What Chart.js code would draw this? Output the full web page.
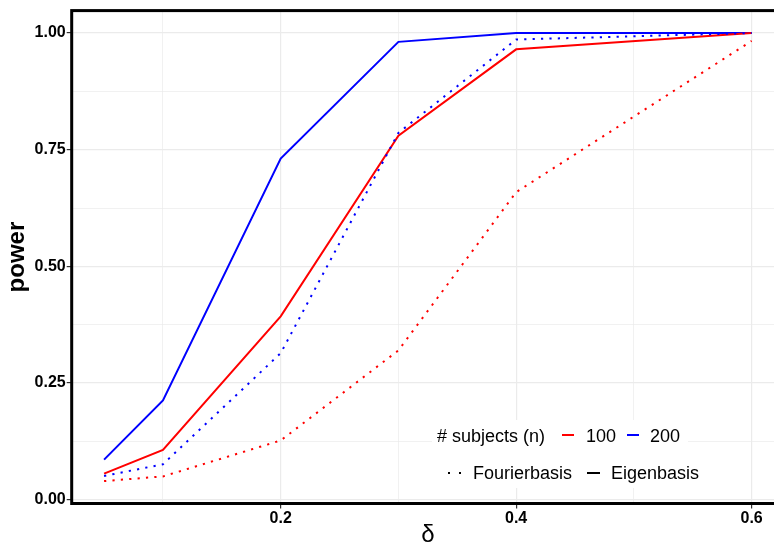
<!DOCTYPE html>
<html>
<head>
<meta charset="utf-8">
<script src="https://cdn.jsdelivr.net/npm/chart.js@4.4.1/dist/chart.umd.min.js"></script>
<style>
  body { margin: 0; background: #fff; overflow: hidden; }
  #wrap { width: 774px; height: 550px; overflow: hidden; position: relative; }
</style>
</head>
<body>
<div id="wrap"><canvas id="powerChart" width="784" height="550"></canvas></div>
<script>
// effect size delta on the x axis
const deltas = [0.05, 0.1, 0.2, 0.3, 0.4, 0.6];

// power values
const eigen100 = [0.056, 0.107, 0.393, 0.780, 0.965, 1.0];
const eigen200 = [0.086, 0.213, 0.731, 0.981, 1.0, 1.0];
const fourier100 = [0.040, 0.050, 0.127, 0.320, 0.659, 0.983];
const fourier200 = [0.051, 0.076, 0.314, 0.786, 0.986, 1.0];

const xTicks = [0.1, 0.2, 0.3, 0.4, 0.5, 0.6];
const xMajor = [0.2, 0.4, 0.6];
const yTicks = [0, 0.125, 0.25, 0.375, 0.5, 0.625, 0.75, 0.875, 1.0];
const yMajor = [0, 0.25, 0.5, 0.75, 1.0];

const sizeLabels = ['100', '200'];
const basisLabels = ['Fourierbasis', 'Eigenbasis'];

const FONT = "'Liberation Sans', Arial, Helvetica, sans-serif";

function isMajor(list, v) {
  return list.some(m => Math.abs(m - v) < 1e-9);
}

function toPoints(ys) {
  return deltas.map((d, i) => ({ x: d, y: ys[i] }));
}

const dotted = [2.2, 6.2];

// border round the panel and the legend inside it
const panelExtras = {
  id: 'panelExtras',
  afterDatasetsDraw(chart) {
    const c = chart.ctx;
    const a = chart.chartArea;
    c.save();
    c.strokeStyle = '#000';
    c.lineWidth = 3;
    c.strokeRect(a.left, a.top, a.right - a.left, a.bottom - a.top);

    // legend backgrounds
    c.fillStyle = '#fff';
    c.fillRect(432, 420, 256, 35);
    c.fillRect(441, 455, 265, 33);

    c.font = '18px ' + FONT;
    c.fillStyle = '#000';
    c.textBaseline = 'alphabetic';
    c.textAlign = 'left';

    // row 1: sample size
    c.fillText('# subjects (n)', 437, 442);
    c.lineWidth = 2;
    c.strokeStyle = '#ff0000';
    c.beginPath(); c.moveTo(562, 435); c.lineTo(574, 435); c.stroke();
    c.fillText(sizeLabels[0], 586, 442);
    c.strokeStyle = '#0000ff';
    c.beginPath(); c.moveTo(627, 435); c.lineTo(639, 435); c.stroke();
    c.fillText(sizeLabels[1], 650, 442);

    // row 2: basis
    c.strokeStyle = '#000';
    c.setLineDash([2, 9]);
    c.beginPath(); c.moveTo(448, 473); c.lineTo(463, 473); c.stroke();
    c.setLineDash([]);
    c.fillText(basisLabels[0], 473, 479);
    c.beginPath(); c.moveTo(587, 473); c.lineTo(600, 473); c.stroke();
    c.fillText(basisLabels[1], 611, 479);
    c.restore();
  }
};

const ctx = document.getElementById('powerChart').getContext('2d');

new Chart(ctx, {
  type: 'line',
  data: {
    datasets: [
      {
        label: 'Fourierbasis 100',
        data: toPoints(fourier100),
        borderColor: '#ff0000',
        borderWidth: 2,
        borderDash: dotted,
        pointRadius: 0,
        tension: 0
      },
      {
        label: 'Fourierbasis 200',
        data: toPoints(fourier200),
        borderColor: '#0000ff',
        borderWidth: 2,
        borderDash: dotted,
        pointRadius: 0,
        tension: 0
      },
      {
        label: 'Eigenbasis 100',
        data: toPoints(eigen100),
        borderColor: '#ff0000',
        borderWidth: 2,
        pointRadius: 0,
        tension: 0
      },
      {
        label: 'Eigenbasis 200',
        data: toPoints(eigen200),
        borderColor: '#0000ff',
        borderWidth: 2,
        pointRadius: 0,
        tension: 0
      }
    ]
  },
  options: {
    responsive: false,
    animation: false,
    devicePixelRatio: 1,
    layout: { padding: { top: 6.7, left: 0, right: 0, bottom: 0 } },
    plugins: {
      legend: { display: false },
      tooltip: { enabled: false }
    },
    scales: {
      x: {
        type: 'linear',
        min: 0.0225,
        max: 0.6275,
        afterBuildTicks: scale => { scale.ticks = xTicks.map(v => ({ value: v })); },
        afterFit: scale => { scale.height = 46.5; },
        border: { display: false },
        grid: {
          color: '#ebebeb',
          lineWidth: c => isMajor(xMajor, c.tick.value) ? 1.2 : 0.7,
          tickLength: 5,
          tickColor: c => isMajor(xMajor, c.tick.value) ? '#333333' : 'rgba(0,0,0,0)'
        },
        ticks: {
          autoSkip: false,
          maxRotation: 0,
          padding: 0,
          color: '#000',
          font: { family: FONT, size: 16, weight: 'bold' },
          callback: v => isMajor(xMajor, v) ? String(v) : ''
        },
        title: {
          display: true,
          text: 'δ',
          color: '#000',
          font: { family: FONT, size: 24 },
          padding: { top: 0, bottom: 0 }
        }
      },
      y: {
        type: 'linear',
        min: -0.008,
        max: 1.048,
        afterBuildTicks: scale => { scale.ticks = yTicks.map(v => ({ value: v })); },
        afterFit: scale => { scale.width = 71.7; },
        border: { display: false },
        grid: {
          color: '#ebebeb',
          lineWidth: c => isMajor(yMajor, c.tick.value) ? 1.2 : 0.7,
          tickLength: 5,
          tickColor: c => isMajor(yMajor, c.tick.value) ? '#333333' : 'rgba(0,0,0,0)'
        },
        ticks: {
          autoSkip: false,
          padding: 1,
          color: '#000',
          font: { family: FONT, size: 16, weight: 'bold' },
          callback: v => isMajor(yMajor, v) ? v.toFixed(2) : ''
        },
        title: {
          display: true,
          text: 'power',
          color: '#000',
          font: { family: FONT, size: 24, weight: 'bold' },
          padding: { top: 3, bottom: 0 }
        }
      }
    }
  },
  plugins: [panelExtras]
});
</script>
</body>
</html>
